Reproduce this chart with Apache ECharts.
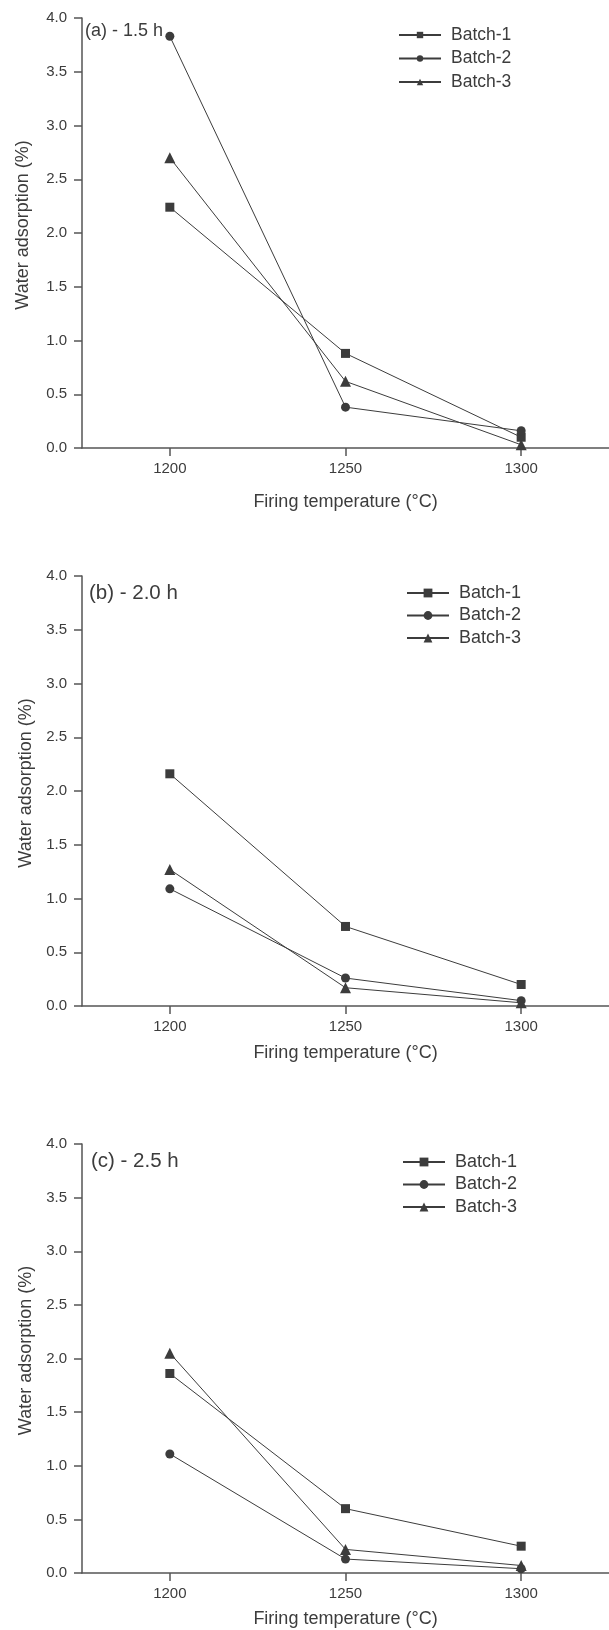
<!DOCTYPE html>
<html>
<head>
<meta charset="utf-8">
<script src="https://cdn.jsdelivr.net/npm/echarts@6/dist/echarts.min.js"></script>
<style>
  html, body { margin: 0; padding: 0; background: #ffffff; }
  #chart { width: 609px; height: 1630px; }
</style>
</head>
<body>
<div id="chart"></div>
<script>
// temperatures (°C)
var temps = [1200, 1250, 1300];
var xTicks = [1200, 1250, 1300];
var batchNames = ['Batch-1', 'Batch-2', 'Batch-3'];
var panelLabels = ['(a) - 1.5 h', '(b) - 2.0 h', '(c) - 2.5 h'];

// water adsorption (%) per panel
var a_batch1 = [2.24, 0.88, 0.10];
var a_batch2 = [3.83, 0.38, 0.16];
var a_batch3 = [2.70, 0.62, 0.03];

var b_batch1 = [2.16, 0.74, 0.20];
var b_batch2 = [1.09, 0.26, 0.05];
var b_batch3 = [1.27, 0.17, 0.03];

var c_batch1 = [1.86, 0.60, 0.25];
var c_batch2 = [1.11, 0.13, 0.04];
var c_batch3 = [2.05, 0.22, 0.07];

var panels = [
  [a_batch1, a_batch2, a_batch3],
  [b_batch1, b_batch2, b_batch3],
  [c_batch1, c_batch2, c_batch3]
];

var symbols = ['rect', 'circle', 'triangle'];
var ink = '#3c3c3c';
var font = 'Liberation Sans, Arial, sans-serif';

// layout per panel
var gridTops = [18, 576, 1144];
var gridH = [430, 430, 429];
var yNameGap = [50, 43, 43];
var xNameGap = [45, 38, 37];
var titlePos = [[85, 22, 18], [89, 583, 20.5], [91, 1151, 20.5]];
// left, top, font size, row gap, icon height
var legendPos = [[398, 26, 17.5, 5.5, 8], [406, 584, 18, 4.5, 11], [402, 1153, 18, 4.5, 11]];

var grids = [], xAxes = [], yAxes = [], series = [], titles = [], legends = [];

for (var p = 0; p < 3; p++) {
  grids.push({ left: 82, top: gridTops[p], width: 534, height: gridH[p] });
  xAxes.push({
    type: 'value', gridIndex: p, min: 1175, max: 1325,
    name: 'Firing temperature (°C)', nameLocation: 'middle', nameGap: xNameGap[p],
    nameTextStyle: { fontSize: 18, color: ink, fontFamily: font },
    splitLine: { show: false },
    axisLine: { lineStyle: { color: '#555', width: 1.5 } },
    axisTick: { show: true, length: 8, customValues: xTicks, lineStyle: { color: '#555', width: 1.5 } },
    axisLabel: {
      customValues: xTicks, margin: 13, fontSize: 15, color: ink, fontFamily: font,
      formatter: function (v) { return String(v); }
    }
  });
  yAxes.push({
    type: 'value', gridIndex: p, min: 0, max: 4, interval: 0.5,
    name: 'Water adsorption (%)', nameLocation: 'middle', nameGap: yNameGap[p],
    nameTextStyle: { fontSize: 18, color: ink, fontFamily: font, padding: [0, 0, 0, 16] },
    splitLine: { show: false },
    axisLine: { show: true, lineStyle: { color: '#555', width: 1.5 } },
    axisTick: { show: true, length: 8, lineStyle: { color: '#555', width: 1.5 } },
    axisLabel: {
      margin: 15, fontSize: 15, color: ink, fontFamily: font,
      formatter: function (v) { return v.toFixed(1); }
    }
  });
  titles.push({
    text: panelLabels[p], left: titlePos[p][0], top: titlePos[p][1], padding: 0,
    textStyle: { fontSize: titlePos[p][2], lineHeight: titlePos[p][2], fontWeight: 'normal', color: ink, fontFamily: font }
  });
  var names = [];
  for (var b = 0; b < 3; b++) {
    var nm = batchNames[b] + (p > 0 ? '\u200b'.repeat(p) : '');
    names.push(nm);
    series.push({
      name: nm, type: 'line', xAxisIndex: p, yAxisIndex: p,
      data: temps.map(function (t, i) { return [t, panels[p][b][i]]; }),
      symbol: symbols[b], symbolSize: b === 2 ? 11 : 9,
      lineStyle: { color: ink, width: 1 },
      itemStyle: { color: ink },
      emphasis: { disabled: true },
      animation: false
    });
  }
  legends.push({
    data: names, orient: 'vertical', left: legendPos[p][0], top: legendPos[p][1],
    padding: 0, itemWidth: 42, itemHeight: legendPos[p][4], itemGap: legendPos[p][3],
    formatter: function (n) { return n.replace(/\u200b/g, ''); },
    textStyle: { fontSize: legendPos[p][2], lineHeight: legendPos[p][2], color: ink, fontFamily: font, padding: [0, 0, 0, 5] }
  });
}

var myChart = echarts.init(document.getElementById('chart'));
myChart.setOption({
  backgroundColor: '#ffffff',
  animation: false,
  title: titles,
  legend: legends,
  grid: grids,
  xAxis: xAxes,
  yAxis: yAxes,
  series: series
});
</script>
</body>
</html>
